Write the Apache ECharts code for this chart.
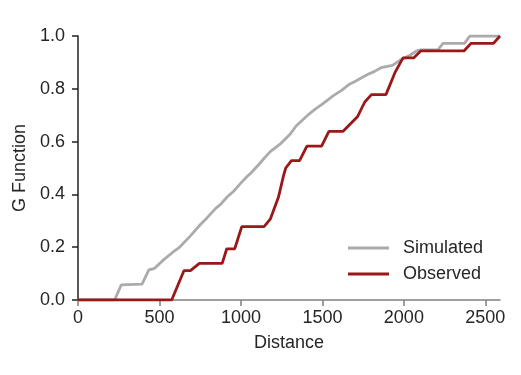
<!DOCTYPE html>
<html>
<head>
<meta charset="utf-8">
<script src="https://cdn.jsdelivr.net/npm/echarts@6/dist/echarts.min.js"></script>
<style>html,body{margin:0;padding:0;background:#fff;}#c{width:521px;height:375px;}</style>
</head>
<body>
<div id="c"></div>
<script>
var xTicks = [0, 500, 1000, 1500, 2000, 2500];
var yTicks = [0, 0.2, 0.4, 0.6, 0.8, 1.0];
var seriesNames = ['Simulated', 'Observed'];
var simulated = [
  [0,0],[225,0],[265,0.057],[393,0.06],[435,0.114],[470,0.12],[525,0.152],[580,0.18],
  [620,0.198],[690,0.243],[750,0.285],[790,0.31],[845,0.347],[875,0.362],[915,0.39],
  [955,0.412],[995,0.44],[1036,0.467],[1060,0.48],[1117,0.518],[1140,0.535],[1180,0.562],
  [1240,0.59],[1300,0.627],[1340,0.66],[1410,0.70],[1450,0.72],[1495,0.74],[1570,0.775],
  [1620,0.795],[1660,0.815],[1700,0.828],[1740,0.842],[1780,0.855],[1820,0.866],[1860,0.88],
  [1930,0.889],[1975,0.908],[2040,0.928],[2080,0.944],[2100,0.947],[2209,0.947],[2240,0.972],
  [2372,0.972],[2405,1.0],[2590,1.0]
];
var observed = [
  [0,0],[575,0],[650,0.111],[690,0.111],[745,0.139],[885,0.139],[913,0.194],[962,0.194],
  [1005,0.278],[1142,0.278],[1180,0.306],[1230,0.389],[1262,0.472],[1275,0.5],[1310,0.528],
  [1360,0.528],[1405,0.583],[1495,0.583],[1540,0.639],[1627,0.639],[1715,0.694],[1760,0.75],
  [1801,0.778],[1890,0.778],[1945,0.861],[1995,0.917],[2060,0.917],[2105,0.944],[2370,0.944],
  [2412,0.972],[2550,0.972],[2590,1.0]
];
var xMax = 2590;
var FONT = '"Liberation Sans", Arial, sans-serif';
var TXT = '#262626';
var FS = 18;
var chart = echarts.init(document.getElementById('c'), null, {renderer: 'canvas'});
chart.setOption({
  animation: false,
  backgroundColor: '#fff',
  grid: {left: 78, right: 21, top: 36, bottom: 75, containLabel: false},
  legend: {
    orient: 'vertical', left: 348, top: 239, padding: 0,
    itemWidth: 41, itemHeight: 3, itemGap: 8, icon: 'rect',
    textStyle: {fontFamily: FONT, fontSize: FS, color: TXT, lineHeight: 18, padding: [0,0,0,9]},
    data: seriesNames
  },
  xAxis: {
    type: 'value', min: 0, max: xMax, interval: 500,
    name: 'Distance', nameLocation: 'middle', nameGap: 34,
    nameTextStyle: {fontFamily: FONT, fontSize: FS, color: TXT},
    axisLine: {show: true, lineStyle: {color: '#808080', width: 1.5}},
    axisTick: {show: true, length: 6, customValues: xTicks, lineStyle: {color: '#808080', width: 1.5}},
    axisLabel: {customValues: xTicks, fontFamily: FONT, fontSize: FS, color: TXT, margin: 9,
      formatter: function (v) { return String(v); }},
    splitLine: {show: false}
  },
  yAxis: {
    type: 'value', min: 0, max: 1, interval: 0.2,
    name: 'G Function', nameLocation: 'middle', nameGap: 45, nameRotate: 90,
    nameTextStyle: {fontFamily: FONT, fontSize: FS, color: TXT},
    axisLine: {show: true, lineStyle: {color: '#222', width: 1.5}},
    axisTick: {show: true, length: 6, customValues: yTicks, lineStyle: {color: '#222', width: 1.5}},
    axisLabel: {customValues: yTicks, fontFamily: FONT, fontSize: FS, color: TXT, margin: 13,
      formatter: function (v) { return v.toFixed(1); }},
    splitLine: {show: false}
  },
  series: [
    {name: seriesNames[0], type: 'line', data: simulated, symbol: 'none', color: '#ababab',
     lineStyle: {width: 2.8, color: '#ababab'}, z: 2},
    {name: seriesNames[1], type: 'line', data: observed, symbol: 'none', color: '#9a1818',
     lineStyle: {width: 2.8, color: '#9a1818'}, z: 3}
  ]
});
</script>
</body>
</html>
